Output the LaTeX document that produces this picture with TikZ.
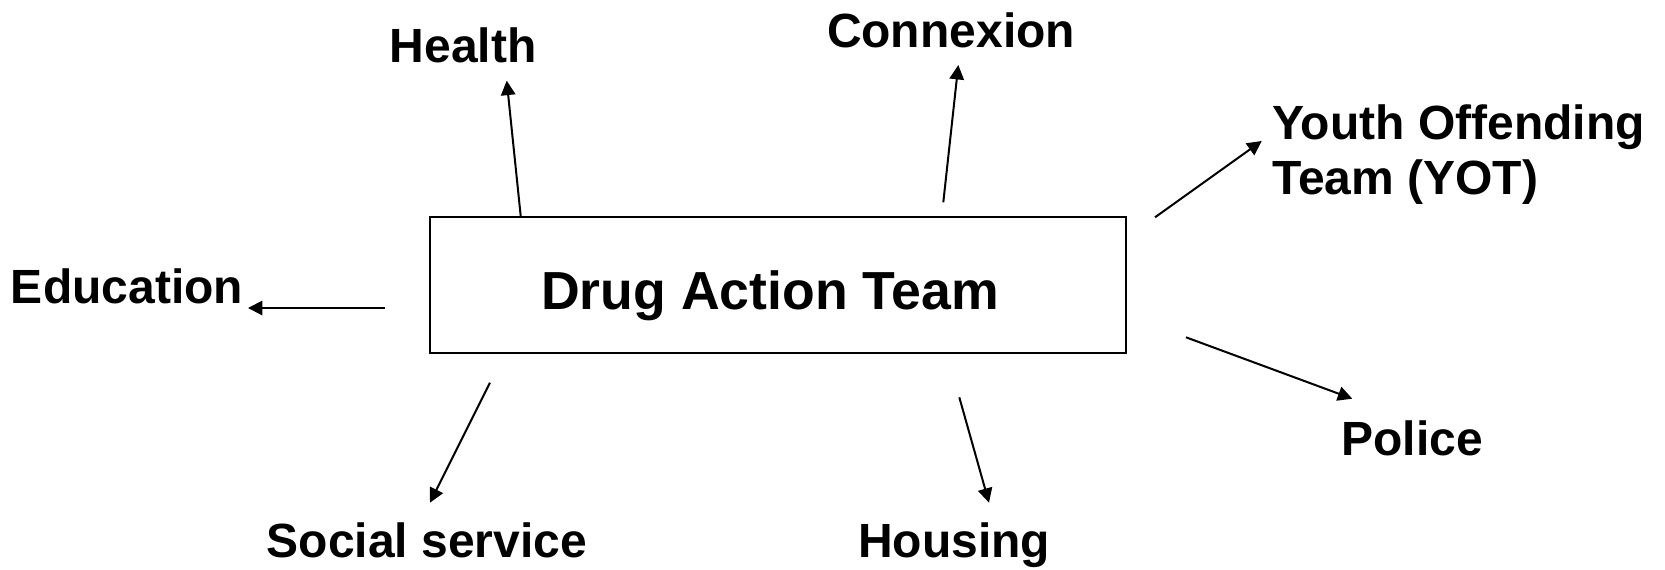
\documentclass[tikz,border=0pt]{standalone}
\usepackage{fontspec}
\setmainfont{Liberation Sans}
\usetikzlibrary{arrows.meta, positioning}

\tikzset{
  lbl/.style={font=\fontsize{24}{27.5}\selectfont\bfseries, inner sep=0pt, anchor=base},
  teambox/.style={draw, line width=1pt, minimum width=348pt, minimum height=68pt,
    font=\fontsize{26.8}{30}\selectfont\bfseries, text height=24pt, text depth=0pt},
  link/.style={line width=1pt, -{Triangle[length=7.2pt, width=7.2pt]}},
}

\begin{document}
\begin{tikzpicture}[x=0.5pt, y=-0.5pt]
\useasboundingbox (0,0) rectangle (1665,569);
\node at (778,285) [teambox] (dat) {Drug Action Team\kern8pt};
\node at (463,62) [lbl] (health) {Health};
\node at (951,47) [lbl] (connexion) {Connexion};
\node at (1272,194) [lbl, anchor=base west, align=left] (yot) {Youth Offending\\Team (YOT)};
\node at (127,303) [lbl] (education) {Education};
\node at (1412,455) [lbl] (police) {Police};
\node at (427,557) [lbl] (social) {Social service};
\node at (954,557) [lbl] (housing) {Housing};
\coordinate (health-a) at (520.7,216);
\coordinate (health-b) at (506.7,80.7);
\coordinate (connexion-a) at (943.3,202.3);
\coordinate (connexion-b) at (958.3,65);
\coordinate (yot-a) at (1155,217.3);
\coordinate (yot-b) at (1261.7,141);
\coordinate (education-a) at (385,308);
\coordinate (education-b) at (248,308);
\coordinate (police-a) at (1186,337.3);
\coordinate (police-b) at (1352.3,398.7);
\coordinate (housing-a) at (959.3,397.3);
\coordinate (housing-b) at (989,502.7);
\coordinate (social-a) at (490,382.7);
\coordinate (social-b) at (430,502.7);
\draw [link] (health-a) -- (health-b);
\draw [link] (connexion-a) -- (connexion-b);
\draw [link] (yot-a) -- (yot-b);
\draw [link] (education-a) -- (education-b);
\draw [link] (police-a) -- (police-b);
\draw [link] (housing-a) -- (housing-b);
\draw [link] (social-a) -- (social-b);
\end{tikzpicture}
\end{document}
